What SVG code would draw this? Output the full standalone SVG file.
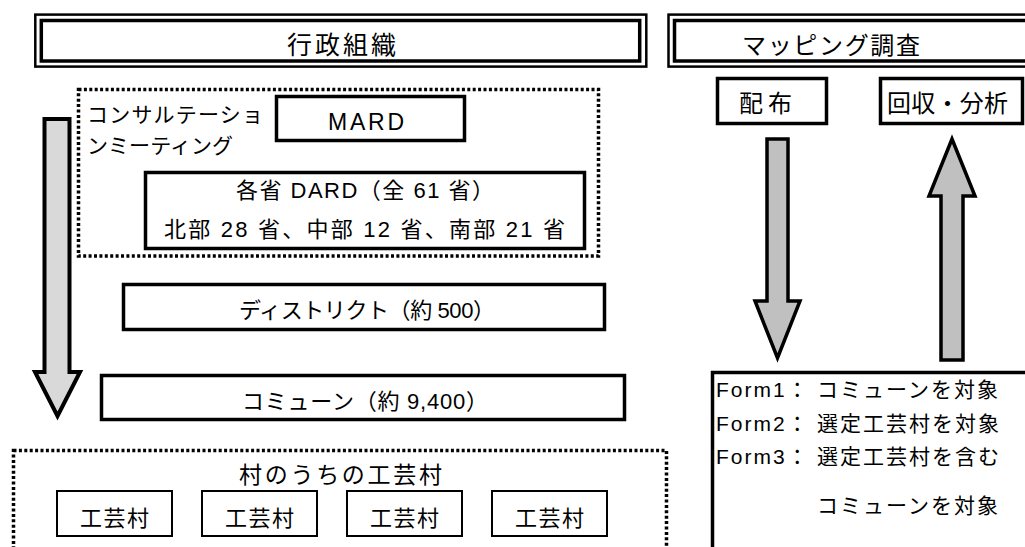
<svg xmlns="http://www.w3.org/2000/svg" width="1025" height="547" viewBox="0 0 1025 547">
<style>
text{font-family:"Liberation Sans","Noto Sans CJK JP",sans-serif;fill:#000}
.box{fill:#fff;stroke:#000;stroke-width:3.5}
.thin{fill:#fff;stroke:#000;stroke-width:2}
.dot{fill:none;stroke:#000;stroke-width:3.5;stroke-dasharray:3 2.4}
.to{fill:none;stroke:#000;stroke-width:2.5}
.ti{fill:none;stroke:#000;stroke-width:3.5}
.arrL{fill:#d9d9d9;stroke:#000;stroke-width:4;stroke-linejoin:miter}
.arrR{fill:#c0c0c0;stroke:#000;stroke-width:3.5;stroke-linejoin:miter}
.f22{font-size:22px}
.f23{font-size:23px}
.f24{font-size:24px}
.mid{text-anchor:middle}
.form{font-size:21px;letter-spacing:2px}
</style>
<rect width="1025" height="547" fill="#fff"/>

<g id="title-admin">
<rect class="to" x="35.3" y="14.6" width="611" height="52"/>
<rect class="ti" x="41.3" y="20.5" width="598.4" height="40.5"/>
<text style="font-size:25px" x="287" y="54" textLength="109" lengthAdjust="spacing">行政組織</text>
</g>

<g id="title-mapping">
<rect class="to" x="668.5" y="14.6" width="400" height="52"/>
<rect class="ti" x="674.5" y="20.5" width="400" height="40.5"/>
<text class="f24" x="742" y="54" textLength="178" lengthAdjust="spacing">マッピング調査</text>
</g>

<g id="consultation">
<rect class="dot" x="78.5" y="89.5" width="520" height="166.5"/>
<text style="font-size:21px" x="87" y="122" textLength="176" lengthAdjust="spacing">コンサルテーショ</text>
<text style="font-size:21px" x="87" y="153" textLength="146" lengthAdjust="spacing">ンミーティング</text>
</g>

<g id="mard">
<rect class="box" x="276.5" y="96.5" width="188" height="44"/>
<text class="f23" x="328" y="130" textLength="76" lengthAdjust="spacing">MARD</text>
</g>

<g id="dard">
<rect class="box" x="145.5" y="172.5" width="439" height="76"/>
<text class="f22" x="236" y="198" textLength="258" lengthAdjust="spacing">各省 DARD（全 61 省）</text>
<text class="f22" x="164" y="237" textLength="401" lengthAdjust="spacing">北部 28 省、中部 12 省、南部 21 省</text>
</g>

<g id="district">
<rect class="box" x="123.5" y="284.5" width="481" height="45"/>
<text class="f22" x="239" y="318" textLength="256" lengthAdjust="spacing">ディストリクト（約 500）</text>
</g>

<g id="commune">
<rect class="box" x="101.5" y="375.5" width="523" height="44"/>
<text class="f22" x="242" y="409" textLength="246" lengthAdjust="spacing">コミューン（約 9,400）</text>
</g>

<g id="craft-villages">
<rect class="dot" x="13.5" y="450.5" width="653" height="120"/>
<text class="f23" x="239" y="483" textLength="203" lengthAdjust="spacing">村のうちの工芸村</text>
</g>
<g id="village1"><rect class="thin" x="57" y="491" width="115" height="45"/><text class="f22 mid" x="114.5" y="526" textLength="69" lengthAdjust="spacing">工芸村</text></g>
<g id="village2"><rect class="thin" x="202" y="491" width="115" height="45"/><text class="f22 mid" x="259.5" y="526" textLength="69" lengthAdjust="spacing">工芸村</text></g>
<g id="village3"><rect class="thin" x="347" y="491" width="115" height="45"/><text class="f22 mid" x="404.5" y="526" textLength="69" lengthAdjust="spacing">工芸村</text></g>
<g id="village4"><rect class="thin" x="492" y="491" width="115" height="45"/><text class="f22 mid" x="549.5" y="526" textLength="69" lengthAdjust="spacing">工芸村</text></g>

<g id="distribute">
<rect class="box" x="717.5" y="78.5" width="109" height="45"/>
<text class="f24" x="739" y="112" textLength="53" lengthAdjust="spacing">配布</text>
</g>

<g id="collect">
<rect class="box" x="880.5" y="78.5" width="142" height="45"/>
<text class="f24" x="887" y="112" textLength="121" lengthAdjust="spacing">回収・分析</text>
</g>

<g id="forms">
<rect class="box" x="712.5" y="372.5" width="400" height="300"/>
<text class="form" y="397"><tspan x="716">Form1：</tspan><tspan x="817">コミューンを対象</tspan></text>
<text class="form" y="431"><tspan x="716">Form2：</tspan><tspan x="817">選定工芸村を対象</tspan></text>
<text class="form" y="464"><tspan x="716">Form3：</tspan><tspan x="817">選定工芸村を含む</tspan></text>
<text class="form" x="817" y="513">コミューンを対象</text>
</g>

<g id="connectors">
<polygon class="arrL" points="44.5,119 69.5,119 69.5,372 80,372 57.5,416 35,372 44.5,372"/>
<polygon class="arrR" points="767,139 788,139 788,301 800,301 777.5,358 755,301 767,301"/>
<polygon class="arrR" points="952,139 975,196 963,196 963,360 941,360 941,196 929,196"/>
</g>
</svg>
